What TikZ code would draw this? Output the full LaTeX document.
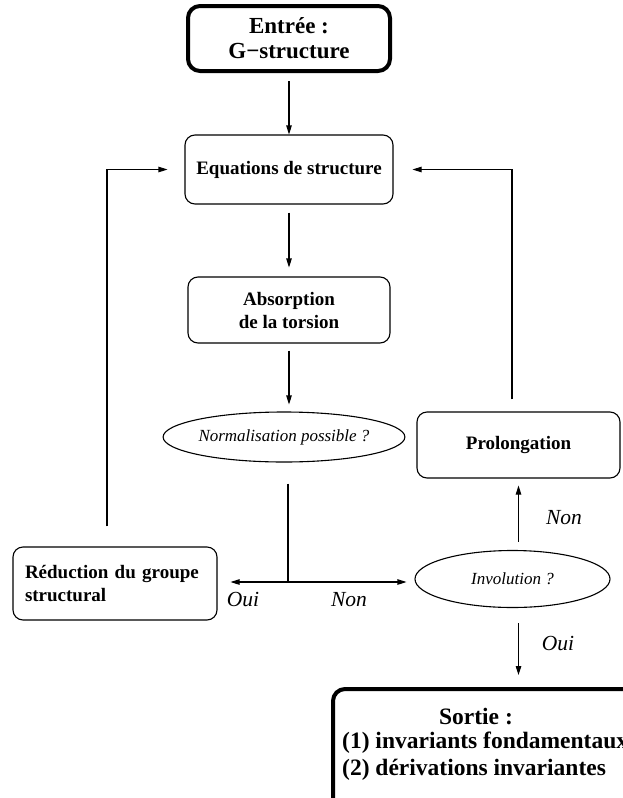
\documentclass[tikz,border=0pt]{standalone}
\usepackage{fontspec}
\setmainfont{Liberation Serif}
\usetikzlibrary{arrows.meta,shapes.geometric,calc}
\begin{document}
\begin{tikzpicture}[x=1pt,y=-1pt,
  box/.style={draw,rounded corners=10pt,line width=1.1pt,inner sep=0pt,font=\fontsize{19}{23}\selectfont\bfseries,align=center},
  thickbox/.style={draw,rounded corners=12pt,line width=4pt,inner sep=0pt,font=\fontsize{23}{25}\selectfont\bfseries,align=center},
  oval/.style={draw,ellipse,line width=1.1pt,inner sep=0pt,font=\fontsize{17}{20}\selectfont\itshape},
  arr/.style={-{Triangle[length=9pt,width=5.5pt]},line width=1.1pt},
  plain/.style={line width=1.1pt},
  lbl/.style={font=\fontsize{21.5}{24}\selectfont\itshape,inner sep=0pt},
  title/.style={font=\fontsize{23.5}{26}\selectfont\bfseries,inner sep=0pt},
]
\useasboundingbox (0,0) rectangle (623,798);
\clip (0,0) rectangle (623,798);

\node[thickbox,minimum width=202pt,minimum height=65pt] (in) at (289,38.5) {Entrée :\\G−structure};
\node[box,minimum width=208pt,minimum height=69pt] (eq) at (289,169.5) {Equations de structure};
\node[box,minimum width=202pt,minimum height=66pt] (abs) at (289,310) {Absorption\\de la torsion};
\node[oval,minimum width=218pt,minimum height=50pt] (norm) at (284,437) {Normalisation possible ?};
\node[box,minimum width=203pt,minimum height=66pt] (pro) at (518.5,445) {Prolongation};
\node[box,minimum width=204pt,minimum height=73pt,align=left,text width=180pt] (red) at (115,583.5) {Réduction du groupe\\structural};
\node[oval,minimum width=195pt,minimum height=57pt] (inv) at (512.5,579) {Involution ?};
\node[thickbox,minimum width=330pt,minimum height=140pt] (out) at (498,759) {};
\node[title] (o1) at (476,717) {Sortie :};
\node[title,anchor=west] (o2) at (342,743) {(1) invariants fondamentaux};
\node[title,anchor=west] (o3) at (342,770) {(2) dérivations invariantes};

\coordinate (j) at (288,582);

\draw[arr,shorten <=8pt] (in.south) -- (eq.north);
\draw[arr,shorten <=8pt,shorten >=9pt] (eq.south) -- (abs.north);
\draw[arr,shorten <=7pt,shorten >=7pt] (abs.south) -- (abs.south |- norm.north);
\draw[plain,shorten <=21pt] (norm.south -| j) -- (j);
\draw[arr,shorten >=13pt] (j) -- (red.east |- j);
\draw[arr,shorten >=8pt] (j) -- (inv.west |- j);
\draw[arr,shorten <=8pt,shorten >=7pt] (pro.south |- inv.north) -- (pro.south);
\draw[arr,shorten <=15pt,shorten >=12pt] (pro.south |- inv.south) -- (pro.south |- out.north);
\draw[arr,shorten <=12pt,shorten >=19pt] ([xshift=-6.5pt]pro.north) |- (eq.east);
\draw[arr,shorten <=20pt,shorten >=17pt] ([xshift=-8pt]red.north) |- (eq.west);

\node[lbl] (oui1) at (243,600) {Oui};
\node[lbl] (non1) at (349,600) {Non};
\node[lbl] (non2) at (564,518) {Non};
\node[lbl] (oui2) at (558,643) {Oui};
\end{tikzpicture}
\end{document}
